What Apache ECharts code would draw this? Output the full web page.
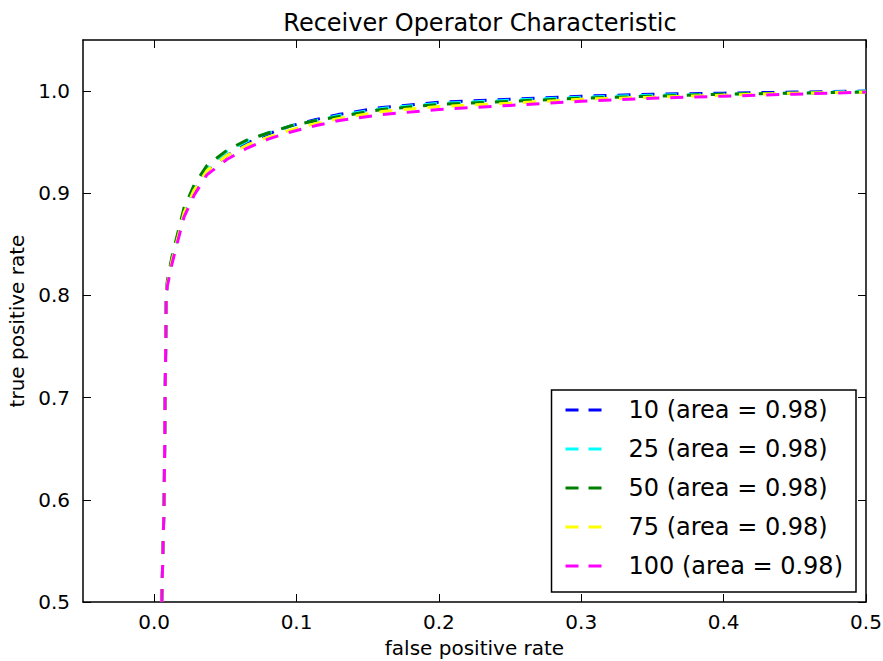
<!DOCTYPE html>
<html>
<head>
<meta charset="utf-8">
<script src="https://cdn.jsdelivr.net/npm/echarts@6/dist/echarts.min.js"></script>
<style>
html, body { margin: 0; padding: 0; background: #fff; }
#main { width: 883px; height: 661px; }
</style>
</head>
<body>
<div id="main"></div>
<script>
// false positive rate, shared by all curves
var fpr = [0.0053, 0.007, 0.0077, 0.0085, 0.0092, 0.0125, 0.0169, 0.021, 0.028, 0.037, 0.051, 0.065, 0.080, 0.096, 0.113, 0.129, 0.16, 0.2, 0.25, 0.3, 0.35, 0.4, 0.45, 0.5];
// true positive rate per run
var tpr10  = [0.5, 0.6, 0.7, 0.8, 0.811, 0.834, 0.858, 0.880, 0.902, 0.922, 0.937, 0.949, 0.958, 0.966, 0.972, 0.977, 0.984, 0.989, 0.992, 0.995, 0.997, 0.998, 0.999, 1.0];
var tpr25  = [0.5, 0.6, 0.7, 0.8, 0.812, 0.836, 0.860, 0.883, 0.905, 0.925, 0.941, 0.951, 0.959, 0.966, 0.971, 0.976, 0.983, 0.988, 0.991, 0.994, 0.996, 0.997, 0.998, 1.0];
var tpr50  = [0.5, 0.6, 0.7, 0.8, 0.814, 0.838, 0.863, 0.886, 0.908, 0.927, 0.942, 0.952, 0.959, 0.966, 0.971, 0.975, 0.982, 0.987, 0.990, 0.993, 0.995, 0.997, 0.998, 0.999];
var tpr75  = [0.5, 0.6, 0.7, 0.8, 0.811, 0.834, 0.858, 0.881, 0.903, 0.922, 0.937, 0.947, 0.955, 0.962, 0.968, 0.973, 0.980, 0.985, 0.988, 0.992, 0.994, 0.996, 0.998, 0.999];
var tpr100 = [0.5, 0.6, 0.7, 0.8, 0.809, 0.831, 0.855, 0.877, 0.898, 0.918, 0.933, 0.944, 0.953, 0.960, 0.966, 0.971, 0.977, 0.982, 0.986, 0.990, 0.993, 0.995, 0.997, 0.999];

var names  = ['10 (area = 0.98)', '25 (area = 0.98)', '50 (area = 0.98)', '75 (area = 0.98)', '100 (area = 0.98)'];
var colors = ['#0000ff', '#00ffff', '#008000', '#ffff00', '#ff00ff'];
var tprs   = [tpr10, tpr25, tpr50, tpr75, tpr100];

var xTicks = [0, 0.1, 0.2, 0.3, 0.4, 0.5];
var yTicks = [0.5, 0.6, 0.7, 0.8, 0.9, 1.0];

var font = 'DejaVu Sans';

var series = [];
for (var i = 0; i < tprs.length; i++) {
	var pts = [];
	for (var j = 0; j < fpr.length; j++) {
		pts.push([fpr[j], tprs[i][j]]);
	}
	series.push({
		name: names[i],
		type: 'line',
		data: pts,
		showSymbol: false,
		clip: true,
		color: colors[i],
		lineStyle: { color: colors[i], width: 3, type: [13, 11] },
		itemStyle: { color: colors[i] },
		z: 2 + i
	});
}

// ticks point inward on all four sides, matplotlib style
function tick(vals) {
	return { show: true, inside: true, length: 8, customValues: vals, lineStyle: { color: '#000', width: 1 } };
}
var line = { show: true, onZero: false, lineStyle: { color: '#000', width: 1.5 } };

// svg keeps one continuous dash pattern along each curve
var myChart = echarts.init(document.getElementById('main'), null, { renderer: 'svg' });
var option = {
	backgroundColor: '#fff',
	animation: false,
	title: {
		text: 'Receiver Operator Characteristic',
		left: 475,
		textAlign: 'center',
		top: 6,
		textStyle: { fontFamily: font, fontSize: 24, fontWeight: 'normal', color: '#000' }
	},
	grid: { left: 83, right: 17, top: 40, bottom: 59, containLabel: false, outerBoundsMode: 'none' },
	legend: {
		orient: 'vertical',
		right: 27,
		bottom: 69,
		data: names,
		icon: 'path://M0,0h13v3h-13zM23,0h13v3h-13z',
		itemWidth: 36,
		itemHeight: 3,
		itemGap: 15,
		padding: [8, 13, 14, 14],
		borderColor: '#000',
		borderWidth: 1.5,
		borderRadius: 0,
		backgroundColor: '#fff',
		textStyle: { fontFamily: font, fontSize: 24, color: '#000', lineHeight: 24, padding: [0, 0, 0, 22] }
	},
	xAxis: [{
		type: 'value', min: -0.05, max: 0.5,
		name: 'false positive rate',
		nameLocation: 'middle',
		nameGap: 36,
		nameTextStyle: { fontFamily: font, fontSize: 20, color: '#000' },
		axisLine: line,
		axisTick: tick(xTicks),
		splitLine: { show: false },
		axisLabel: {
			customValues: xTicks, margin: 10,
			fontFamily: font, fontSize: 20, color: '#000',
			formatter: function (v) { return v.toFixed(1); }
		}
	}, {
		type: 'value', min: -0.05, max: 0.5, position: 'top',
		axisLine: line,
		axisTick: tick(xTicks),
		splitLine: { show: false },
		axisLabel: { show: false }
	}],
	yAxis: [{
		type: 'value', min: 0.5, max: 1.05,
		name: 'true positive rate',
		nameLocation: 'middle',
		nameGap: 52,
		nameTextStyle: { fontFamily: font, fontSize: 20, color: '#000' },
		axisLine: line,
		axisTick: tick(yTicks),
		splitLine: { show: false },
		axisLabel: {
			customValues: yTicks, margin: 13,
			fontFamily: font, fontSize: 20, color: '#000',
			formatter: function (v) { return v.toFixed(1); }
		}
	}, {
		type: 'value', min: 0.5, max: 1.05, position: 'right',
		axisLine: line,
		axisTick: tick(yTicks),
		splitLine: { show: false },
		axisLabel: { show: false }
	}],
	series: series
};
myChart.setOption(option);
</script>
</body>
</html>
